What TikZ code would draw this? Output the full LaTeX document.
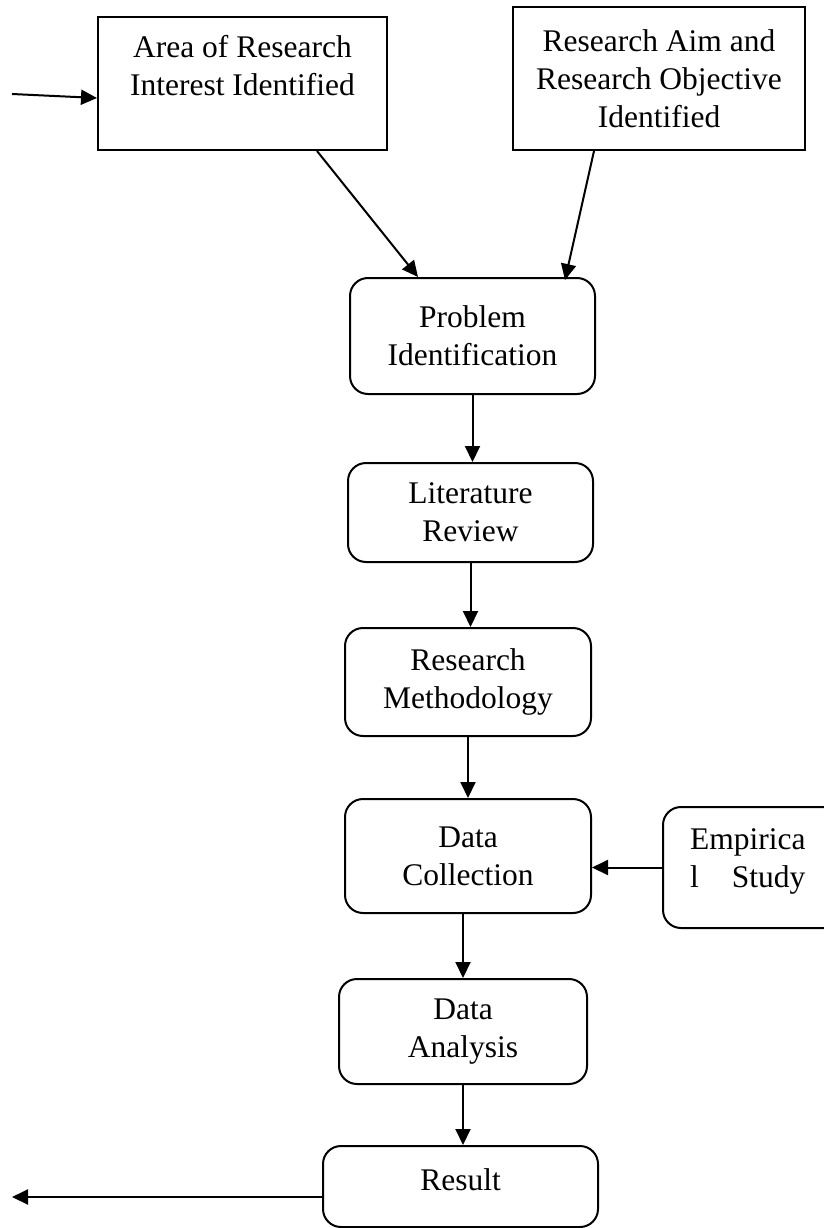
\documentclass[tikz,border=0pt]{standalone}
\usepackage{fontspec}
\setmainfont{Liberation Serif}
\usetikzlibrary{arrows.meta,calc}
\begin{document}
\begin{tikzpicture}[x=1pt,y=-1pt,
  every node/.style={font=\fontsize{31.5}{38}\selectfont},
  sq/.style={draw,line width=2pt,rectangle,inner sep=0pt,align=center},
  rbox/.style={sq,rounded corners=18pt},
  txt/.style={inner sep=0pt,align=center},
  arr/.style={line width=2pt,-{Triangle[length=16pt,width=15pt]}}]
\useasboundingbox (0,0) rectangle (824,1228);
% boxes
\node[sq,minimum width=289pt,minimum height=133pt] (A) at (242.5,83.5) {};
\node[txt] (At) at (242.5,66) {Area of Research\\Interest Identified};
\node[sq,minimum width=292pt,minimum height=143pt] (B) at (659,78.5) {Research Aim and\\Research Objective\\Identified};
\node[rbox,minimum width=245pt,minimum height=116pt] (PI) at (472.5,336) {Problem\\Identification};
\node[rbox,minimum width=245pt,minimum height=99pt] (LR) at (470.5,512.5) {Literature\\Review};
\node[rbox,minimum width=246pt,minimum height=108pt] (RM) at (468,682) {Research\\Methodology};
\node[rbox,minimum width=246pt,minimum height=114pt] (DC) at (468,856) {Data\\Collection};
\node[rbox,minimum width=180pt,minimum height=121pt] (ES) at (753,867.5) {};
\node[txt,align=left] (ESt) at (747.75,861) {Empirica\\\hbox to 115.5pt{l\hfill Study}};
\node[rbox,minimum width=248pt,minimum height=105pt] (DA) at (463,1031.5) {Data\\Analysis};
\node[rbox,minimum width=275pt,minimum height=81pt] (R) at (460.5,1186.5) {};
\node[txt] (Rt) at (460.5,1180) {Result};
% connectors
\coordinate (inA) at (12,94);
\draw[arr] (inA) -- ($(A.south west)+(0,-53)$);
\draw[arr] ($(A.south west)+(220,0)$) -- ($(PI.north west)+(69,0)$);
\draw[arr] ($(B.south west)+(82,0)$) -- ($(PI.north west)+(216,3)$);
\draw[arr] (PI.south) -- (PI.south |- LR.north);
\draw[arr] (LR.south) -- (LR.south |- RM.north);
\draw[arr] (RM.south) -- (RM.south |- DC.north);
\draw[arr] (ES.west) -- (ES.west -| DC.east);
\draw[arr] (DA.north |- DC.south) -- (DA.north);
\draw[arr] (DA.south) -- (DA.south |- R.north);
\coordinate (out) at (12,1197);
\draw[arr] ($(R.west)+(0,10.5)$) -- (out);
\end{tikzpicture}
\end{document}
